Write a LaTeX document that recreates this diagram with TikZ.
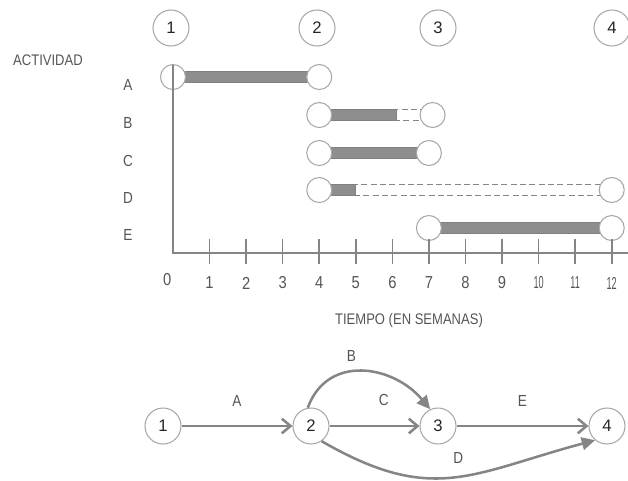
\documentclass[tikz,border=0pt]{standalone}
\usepackage{fontspec}
\setmainfont{Liberation Sans}
\newfontfamily\angosta[FakeStretch=0.85]{Liberation Sans}
\usetikzlibrary{arrows.meta,positioning,backgrounds}
\definecolor{gristrazo}{HTML}{858585}
\definecolor{grisborde}{HTML}{A8A8A8}
\definecolor{grisbarra}{HTML}{8E8E8E}
\definecolor{gristexto}{HTML}{555555}
\tikzset{
    hito/.style={
        circle,
        draw=grisborde,
        fill=white,
        line width=0.8pt,
        minimum size=27pt,
        inner sep=0pt,
        text=black!85,
        font=\fontsize{12.5}{12.5}\selectfont
    },
    evento/.style={hito, minimum size=18.75pt},
    barra/.style={draw=black!50, fill=grisbarra, line width=0.6pt},
    holgura/.style={draw=gristrazo, fill=white, line width=0.8pt,
        dash pattern=on 4.5pt off 2.5pt},
    eje/.style={draw=gristrazo, line width=1.7pt},
    marca/.style={draw=gristrazo, line width=1.2pt},
    rotulo/.style={text=gristexto, inner sep=0pt,
        font=\angosta\fontsize{11.5}{11.5}\selectfont},
    numeje/.style={rotulo, font=\angosta\fontsize{13}{13}\selectfont},
    etiq/.style={text=gristexto, inner sep=0pt,
        font=\angosta\fontsize{12}{12}\selectfont},
    flecha/.style={draw=gristrazo, line width=1.9pt,
        -{Straight Barb[length=6.5pt, width=11pt]}},
    flechacurva/.style={draw=gristrazo, line width=1.9pt,
        -{Triangle[length=10pt, width=9.5pt]}}
}

\begin{document}
\begin{tikzpicture}[x=0.75pt, y=-0.75pt]
    \useasboundingbox (0,0) rectangle (628,480);

    % sucesos sobre el cronograma
    \node[hito] (n1) at (171,28) {1};
    \node[hito] (n2) at (317,28) {2};
    \node[hito] (n3) at (438,28) {3};
    \node[hito] (n4) at (612,28) {4};

    \node[rotulo] (actividad) at (48,60) {ACTIVIDAD};
    \node[rotulo] (tiempo) at (409,321) {TIEMPO (EN SEMANAS)};

    % cronograma: una unidad en x es una semana
    \begin{scope}[shift={(173,253)}, x=27.42pt]
        \node[evento] (eA0)  at (0,-176)  {};
        \node[evento] (eA4)  at (4,-176)  {};
        \node[evento] (eB4)  at (4,-138)  {};
        \node[evento] (eB7)  at (7.1,-138) {};
        \node[evento] (eC4)  at (4,-100)  {};
        \node[evento] (eC7)  at (7,-100)  {};
        \node[evento] (eD4)  at (4,-63)   {};
        \node[evento] (eD12) at (12,-63)  {};
        \node[evento] (eE7)  at (7,-25)   {};
        \node[evento] (eE12) at (12,-25)  {};
        \coordinate (finB) at (6.1,-138);
        \coordinate (finD) at (5,-63);

        \begin{scope}[on background layer]
            \draw[barra] ([yshift=4.2pt]eA0.center) rectangle ([yshift=-4.2pt]eA4.center);
            \draw[holgura] ([yshift=4.2pt]finB) rectangle ([yshift=-4.2pt]eB7.center);
            \draw[barra] ([yshift=4.2pt]eB4.center) rectangle ([yshift=-4.2pt]finB);
            \draw[barra] ([yshift=4.2pt]eC4.center) rectangle ([yshift=-4.2pt]eC7.center);
            \draw[holgura] ([yshift=4.2pt]finD) rectangle ([yshift=-4.2pt]eD12.center);
            \draw[barra] ([yshift=4.2pt]eD4.center) rectangle ([yshift=-4.2pt]finD);
            \draw[barra] ([yshift=4.2pt]eE7.center) rectangle ([yshift=-4.2pt]eE12.center);
        \end{scope}

        % ejes
        \coordinate (origen) at (0,0);
        \draw[eje] (0,-188) -- (origen) -- (12.45,0);
        \foreach \t in {1,...,12} {
            \draw[marca] (\t,-14) -- (\t,11);
            \node[numeje] (t\t) at (\t,30)
                {\ifnum\t>9 \scalebox{0.62}[1]{\t}\else\t\fi};
        }
        \node[numeje] (t0) at (-0.16,27) {0};

        \node[etiq] (rA) at (-1.23,-168) {A};
        \node[etiq] (rB) at (-1.23,-130) {B};
        \node[etiq] (rC) at (-1.23,-92)  {C};
        \node[etiq] (rD) at (-1.23,-55)  {D};
        \node[etiq] (rE) at (-1.23,-18)  {E};
    \end{scope}

    % red de actividades
    \node[hito] (m1) at (163,426) {1};
    \node[hito] (m2) at (311,426) {2};
    \node[hito] (m3) at (438,426) {3};
    \node[hito] (m4) at (607,426) {4};

    \draw[flecha] (m1) -- node[etiq, above=14pt] {A} (m2);
    \draw[flecha] (m2) -- node[etiq, above=14pt, xshift=7pt] {C} (m3);
    \draw[flecha] (m3) -- node[etiq, above=14pt] {E} (m4);
    \draw[flechacurva] (m2.100) to[out=70, in=130, looseness=1.2]
        node[etiq, pos=0.42, above=7pt] {B} (m3.115);
    \draw[flechacurva] (m2.-55) to[out=-30, in=195, looseness=1.2]
        node[etiq, pos=0.52, above=9pt] {D} (m4.-130);
\end{tikzpicture}
\end{document}
